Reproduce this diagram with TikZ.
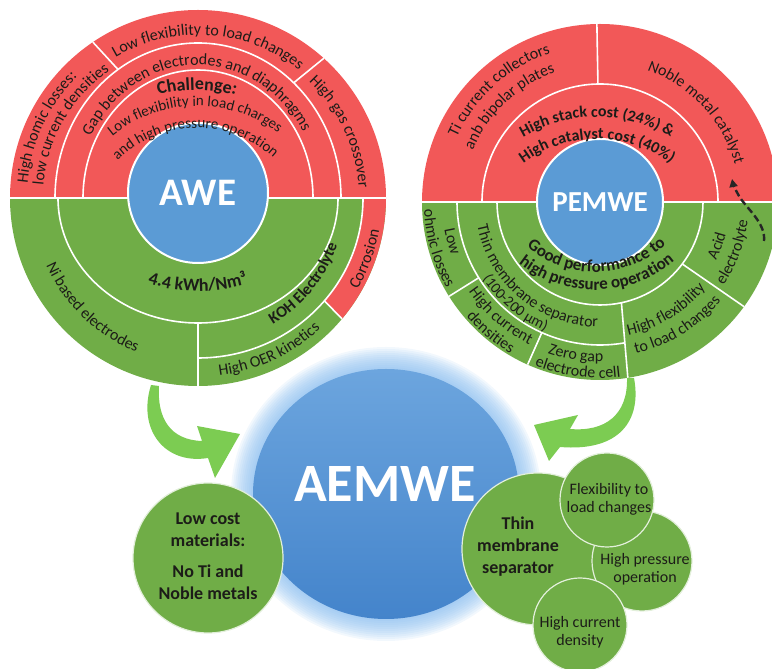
\documentclass[tikz,border=0pt]{standalone}
\usepackage{fontspec}
\setmainfont{Carlito}
\usetikzlibrary{decorations.text,arrows.meta}

\definecolor{redc}{RGB}{242,88,88}
\definecolor{greenc}{RGB}{112,173,71}
\definecolor{bluec}{RGB}{91,155,213}
\definecolor{ink}{RGB}{28,28,24}
\definecolor{arrowgreen}{RGB}{124,204,82}
\definecolor{aemtop}{RGB}{108,165,222}
\definecolor{aembot}{RGB}{68,132,203}
\definecolor{haze}{RGB}{130,185,238}

\newcommand\lblfont{\fontsize{16}{18}\selectfont}
\newcommand\lblsmall{\fontsize{15}{17}\selectfont}
\newcommand\lblbold{\fontsize{16}{18}\selectfont\bfseries}
\newcommand\lblboldx{\fontsize{17}{19}\selectfont\bfseries}
\newcommand\lblbig{\fontsize{18}{20}\selectfont\bfseries}
\newcommand\lblsub{\fontsize{15}{17}\selectfont}

\tikzset{
  sep/.style={draw=white, line width=1.6pt},
  hub/.style={circle, fill=bluec, draw=white, line width=2pt, inner sep=0pt, text=white},
  lbl/.style={decorate, decoration={text along path, text align=center, text color=ink, text={#1}}},
  bubble/.style={circle, fill=greenc, draw=white!80!greenc, line width=1.2pt, inner sep=0pt},
  bubtext/.style={text=ink, align=center, inner sep=0pt},
  bigarrow/.style={fill=arrowgreen},
  dasharrow/.style={draw=black!85, line width=2.4pt, dash pattern=on 7pt off 3.5pt, -{Triangle[length=8pt,width=8pt]}},
}

\begin{document}
\begin{tikzpicture}[x=1pt,y=1pt]
\useasboundingbox (0,0) rectangle (772,669);
\clip (0,0) rectangle (772,669);

% ---------------- AWE wheel ----------------
\coordinate (O1) at (198,471);
\coordinate (Oc1) at (197,429);
\coordinate (Ok1) at (198,548);
\fill[redc] ([shift={(0:188pt)}]O1) arc[start angle=0,end angle=180,radius=188pt] -- cycle;
\fill[greenc] ([shift={(180:188pt)}]O1) arc[start angle=180,end angle=360,radius=188pt] -- cycle;
\fill[redc] ([shift={(0:188pt)}]O1) arc[start angle=0,end angle=-40,radius=188pt]
  -- ([shift={(-40:165pt and 160pt)}]O1) arc[start angle=-40,end angle=0,x radius=165pt,y radius=160pt] -- cycle;

\draw[sep] ([shift={(-188pt,0pt)}]O1) -- ([shift={(188pt,0pt)}]O1);
\draw[sep] ([shift={(0:143pt and 155pt)}]O1) arc[start angle=0,end angle=180,x radius=143pt,y radius=155pt];
\draw[sep] ([shift={(0:115pt and 128pt)}]O1) arc[start angle=0,end angle=180,x radius=115pt,y radius=128pt];
\draw[sep] ([shift={(124:143pt and 155pt)}]O1) -- ([shift={(124:188pt)}]O1);
\draw[sep] ([shift={(48:143pt and 155pt)}]O1) -- ([shift={(48:188pt)}]O1);
\draw[sep] ([shift={(180:140pt and 125pt)}]O1) arc[start angle=180,end angle=360,x radius=140pt,y radius=125pt];
\draw[sep] ([shift={(270:165pt and 160pt)}]O1) arc[start angle=270,end angle=360,x radius=165pt,y radius=160pt];
\draw[sep] ([shift={(-40:165pt and 160pt)}]O1) -- ([shift={(-40:188pt)}]O1);
\draw[sep] ([shift={(270:140pt and 125pt)}]O1) -- ([shift={(270:188pt)}]O1);

\node[hub, minimum size=140pt, font=\fontsize{39}{40}\selectfont\bfseries] (awe) at (198,476) {AWE};

\path[lbl={|\lblfont|Low flexibility to load changes}] ([shift={(151:163pt)}]O1) arc[start angle=151,end angle=21,radius=163pt];
\path[lbl={|\lblfont|Gap between electrodes and diaphragms}] ([shift={(160:121pt and 133pt)}]O1) arc[start angle=160,end angle=22,x radius=121pt,y radius=133pt];
\path[lbl={|\lblbig|Challenge:}] ([shift={(120:150pt)}]Oc1) arc[start angle=120,end angle=60,radius=150pt];
\path[lbl={|\lblsub|Low flexibility in load charges}] ([shift={(135:134pt)}]Oc1) arc[start angle=135,end angle=47,radius=134pt];
\path[lbl={|\lblsub|and high pressure operation}] ([shift={(140:112pt)}]Oc1) arc[start angle=140,end angle=42,radius=112pt];
\path[lbl={|\lblfont|High homic losses:}] ([shift={(200:171pt)}]O1) arc[start angle=200,end angle=110,radius=171pt];
\path[lbl={|\lblfont|low current densities}] ([shift={(195:155pt)}]O1) arc[start angle=195,end angle=105,radius=155pt];
\path[lbl={|\lblfont|High gas crossover}] ([shift={(60:161pt)}]O1) arc[start angle=60,end angle=-10,radius=161pt];

\path[lbl={|\lblbig|4.4 kWh/Nm{³}}] ([shift={(250:170pt)}]Ok1) arc[start angle=250,end angle=290,radius=170pt];
\path[lbl={|\lblbold|KOH Electrolyte}] ([shift={(-75:147pt)}]O1) arc[start angle=-75,end angle=-3,radius=147pt];
\path[lbl={|\lblfont|Ni based electrodes}] ([shift={(190:166pt)}]O1) arc[start angle=190,end angle=262,radius=166pt];
\path[lbl={|\lblfont|High OER kinetics}] ([shift={(-95:179pt)}]O1) arc[start angle=-95,end angle=-35,radius=179pt];
\path[lbl={|\lblfont|Corrosion}] ([shift={(-42:184pt)}]O1) arc[start angle=-42,end angle=2,radius=184pt];

% ---------------- PEMWE wheel ----------------
\coordinate (O2) at (600,467);
\coordinate (Oc2) at (597,407);
\coordinate (Og) at (595,502);
\fill[redc] ([shift={(0:178pt)}]O2) arc[start angle=0,end angle=180,radius=178pt] -- cycle;
\fill[greenc] ([shift={(180:178pt)}]O2) arc[start angle=180,end angle=360,radius=178pt] -- cycle;

\draw[sep] ([shift={(-178pt,0pt)}]O2) -- ([shift={(178pt,0pt)}]O2);
\draw[sep] ([shift={(0:118pt)}]O2) arc[start angle=0,end angle=180,radius=118pt];
\draw[sep] ([shift={(91:118pt)}]O2) -- ([shift={(91:178pt)}]O2);
\draw[sep] ([shift={(180:103pt)}]O2) arc[start angle=180,end angle=360,radius=103pt];
\draw[sep] ([shift={(180:143pt)}]O2) arc[start angle=180,end angle=280,radius=143pt];
\draw[sep] ([shift={(282:103pt)}]O2) -- ([shift={(279:178pt)}]O2);
\draw[sep] ([shift={(-37:103pt)}]O2) -- ([shift={(-36:178pt)}]O2);
\draw[sep] ([shift={(212:143pt)}]O2) -- ([shift={(212:178pt)}]O2);
\draw[sep] ([shift={(246:143pt)}]O2) -- ([shift={(246:178pt)}]O2);

\node[hub, minimum size=126pt, font=\fontsize{29}{30}\selectfont\bfseries] (pem) at (600,467) {PEMWE};

\path[lbl={|\lblfont|Ti current collectors}] ([shift={(185:157pt)}]O2) arc[start angle=185,end angle=79,radius=157pt];
\path[lbl={|\lblfont|anb bipolar plates}] ([shift={(180:137pt)}]O2) arc[start angle=180,end angle=87,radius=137pt];
\path[lbl={|\lblfont|Noble metal catalyst}] ([shift={(85:140pt)}]O2) arc[start angle=85,end angle=1,radius=140pt];
\path[lbl={|\lblbold|High stack cost (24{\%}) {\&}}] ([shift={(130:145pt)}]Oc2) arc[start angle=130,end angle=50,radius=145pt];
\path[lbl={|\lblbold|High catalyst cost (40{\%})}] ([shift={(135:123pt)}]Oc2) arc[start angle=135,end angle=45,radius=123pt];
\path[lbl={|\lblboldx|Good performance to}] ([shift={(223:105pt)}]Og) arc[start angle=223,end angle=319,radius=105pt];
\path[lbl={|\lblboldx|high pressure operation}] ([shift={(220:123pt)}]Og) arc[start angle=220,end angle=322,radius=123pt];
\path[lbl={|\lblfont|Thin membrane separator}] ([shift={(180:125pt)}]O2) arc[start angle=180,end angle=280,radius=125pt];
\path[lbl={|\lblsmall|(100-200 {µ}m)}] ([shift={(197:140pt)}]O2) arc[start angle=197,end angle=263,radius=140pt];
\path[lbl={|\lblfont|Low}] ([shift={(185:158pt)}]O2) arc[start angle=185,end angle=205,radius=158pt];
\path[lbl={|\lblfont|ohmic losses}] ([shift={(178:176pt)}]O2) arc[start angle=178,end angle=214,radius=176pt];
\path[lbl={|\lblfont|High current}] ([shift={(208:159pt)}]O2) arc[start angle=208,end angle=250,radius=159pt];
\path[lbl={|\lblfont|densities}] ([shift={(215:176pt)}]O2) arc[start angle=215,end angle=245,radius=176pt];
\path[lbl={|\lblfont|Zero gap}] ([shift={(248:160pt)}]O2) arc[start angle=248,end angle=274,radius=160pt];
\path[lbl={|\lblfont|electrode cell}] ([shift={(245:176pt)}]O2) arc[start angle=245,end angle=280,radius=176pt];
\path[lbl={|\lblfont|High flexibility}] ([shift={(-83:136pt)}]O2) arc[start angle=-83,end angle=-34,radius=136pt];
\path[lbl={|\lblfont|to load changes}] ([shift={(-81:156pt)}]O2) arc[start angle=-81,end angle=-35,radius=156pt];
\path[lbl={|\lblfont|Acid}] ([shift={(-36:130pt)}]O2) arc[start angle=-36,end angle=-5,radius=130pt];
\path[lbl={|\lblfont|electrolyte}] ([shift={(-38:149pt)}]O2) arc[start angle=-38,end angle=-3,radius=149pt];

% dashed link from the acid electrolyte to the noble metal catalyst
\coordinate (dashfrom) at (764,428);
\coordinate (dashto) at (732,490);
\draw[dasharrow] (dashfrom) .. controls (766,446) and (746,461) .. (739,473) .. controls (735,480) and (733,485) .. (dashto);

% ---------------- curved green arrows ----------------
\fill[bigarrow] (151,284) .. controls (137,239) and (165,204) .. (208,211) -- (215,191) -- (240,235) -- (197,243)
  -- (202,228) .. controls (170,229) and (157,251) .. (159,283) -- cycle;
\fill[bigarrow] (634,291) .. controls (642,249) and (620,217) .. (560,222) -- (549,208) -- (534,244) -- (578,254)
  -- (570,240) .. controls (605,237) and (628,254) .. (627,291) -- cycle;

% ---------------- AEMWE ----------------
\coordinate (O3) at (386,175);
\foreach \k in {1,...,11}
  \fill[haze, opacity=0.1] (O3) ellipse[x radius={133pt+2pt*\k}, y radius={125pt+2pt*\k}];
\shade[top color=aemtop, bottom color=aembot] (O3) ellipse[x radius=133pt, y radius=125pt];
\node[text=white, font=\fontsize{54}{56}\selectfont\bfseries] (aemwe) at (385,185) {AEMWE};

\node[bubble, minimum size=150pt] (cost) at (208,111) {};
\node[bubtext, font=\fontsize{18}{22}\selectfont\bfseries] (costtxt) at (208,113) {Low cost\\materials:\\[9pt]No Ti and\\Noble metals};

\node[bubble, minimum size=152pt] (thin) at (538,120) {};
\node[bubtext, font=\fontsize{18}{22}\selectfont\bfseries] (thintxt) at (518,122) {Thin\\membrane\\separator};
\node[bubble, minimum size=100pt] (press) at (642,108) {};
\node[bubtext, font=\fontsize{16}{18}\selectfont] (presstxt) at (645,100) {High pressure\\operation};
\node[bubble, minimum size=94pt] (curr) at (580,44) {};
\node[bubtext, font=\fontsize{16}{18}\selectfont] (currtxt) at (580,37) {High current\\density};
\node[bubble, minimum size=94pt] (flex) at (607,169) {};
\node[bubtext, font=\fontsize{16}{18}\selectfont] (flextxt) at (609,170) {Flexibility to\\load changes};

\end{tikzpicture}
\end{document}
